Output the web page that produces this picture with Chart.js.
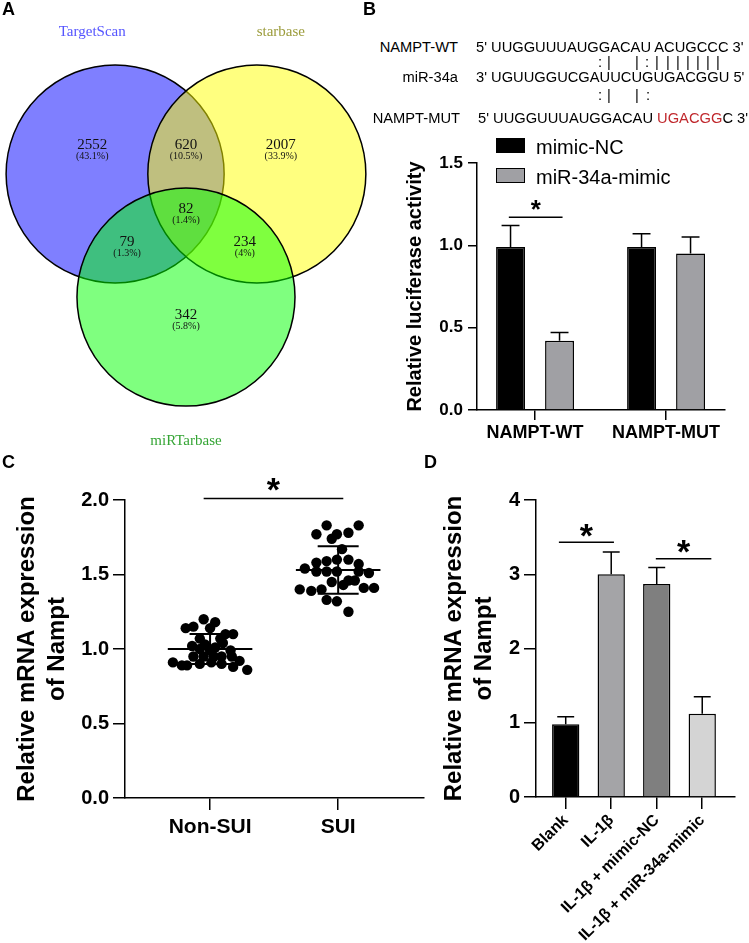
<!DOCTYPE html>
<html>
<head>
<meta charset="utf-8">
<script src="https://cdn.jsdelivr.net/npm/chart.js@4.4.0/dist/chart.umd.min.js"></script>
<style>
  body { margin: 0; background: #fff; font-family: "Liberation Sans", Arial, sans-serif; color: #000; -webkit-font-smoothing: antialiased; }
  #fig { position: relative; width: 749px; height: 943px; overflow: hidden; background: #fff; }
  canvas { position: absolute; }
  .panel { position: absolute; font-weight: bold; font-size: 18px; line-height: 18px; }
  .seq { position: absolute; font-size: 14.7px; line-height: 15px; white-space: pre; }
  .right { text-align: right; }
  .mark { position: absolute; font-size: 14.7px; line-height: 15px; color: #000; }
  .red { color: #c0282d; }
  .key { position: absolute; width: 29px; height: 15px; box-sizing: border-box; border: 1.5px solid #000; }
  .keytxt { position: absolute; font-size: 20px; line-height: 20px; white-space: nowrap; }
</style>
</head>
<body>
<div id="fig">
  <canvas id="venn" width="370" height="460" style="left:0;top:0"></canvas>
  <canvas id="luc" width="379" height="325" style="left:370px;top:125px"></canvas>
  <canvas id="dots" width="430" height="483" style="left:0;top:460px"></canvas>
  <canvas id="bars" width="319" height="483" style="left:430px;top:460px"></canvas>

  <div class="panel" style="left:2px;top:0">A</div>
  <div class="panel" style="left:363px;top:0">B</div>
  <div class="panel" style="left:2px;top:453px">C</div>
  <div class="panel" style="left:424px;top:453px">D</div>

  <!-- binding site sequences -->
  <div class="seq right" style="right:291px;top:40px">NAMPT-WT</div>
  <div class="seq" style="left:476px;top:40px">5' UUGGUUUAUGGACAU ACUGCCC 3'</div>
  <div id="marks1"></div>
  <div class="seq right" style="right:291px;top:70px">miR-34a</div>
  <div class="seq" style="left:476px;top:70px">3' UGUUGGUCGAUUCUGUGACGGU 5'</div>
  <div id="marks2"></div>
  <div class="seq right" style="right:289px;top:111px">NAMPT-MUT</div>
  <div class="seq" style="left:478px;top:111px">5' UUGGUUUAUGGACAU <span class="red">UGACGG</span>C 3'</div>

  <!-- legend of panel B -->
  <div class="key" style="left:496px;top:138px;background:#000"></div>
  <div class="keytxt" style="left:536px;top:137px">mimic-NC</div>
  <div class="key" style="left:496px;top:168px;background:#a0a0a4"></div>
  <div class="keytxt" style="left:536px;top:167px">miR-34a-mimic</div>
</div>

<script>
// ---- panel A: venn of predicted targets
const vennSets = ['TargetScan', 'starbase', 'miRTarbase'];
const vennRegionCounts = [2552, 620, 2007, 79, 82, 234, 342];

// ---- panel B: dual luciferase
const lucGroups = ['NAMPT-WT', 'NAMPT-MUT'];
const lucSeries = ['mimic-NC', 'miR-34a-mimic'];
const lucNC = [0.99, 0.99];
const lucNCErr = [0.13, 0.08];
const lucMimic = [0.42, 0.95];
const lucMimicErr = [0.05, 0.10];
const lucTicks = [0, 0.5, 1.0, 1.5];
const lucSig = [{ from: 0.80, to: 1.21, y: 1.17 }];

// ---- panel C: Nampt mRNA, Non-SUI vs SUI
const dotGroups = ['Non-SUI', 'SUI'];
const nonSuiX = [0.95, 1.04, 0.87, 0.81, 1.00, 1.12, 1.18, 0.92, 1.08, 1.10, 0.86, 0.92, 1.00, 1.16, 0.87,
                 0.95, 1.03, 1.09, 1.17, 0.71, 0.78, 0.82, 0.92, 1.01, 1.09, 1.23, 1.18, 1.29, 0.96, 1.04];
const nonSuiY = [1.20, 1.18, 1.15, 1.14, 1.14, 1.10, 1.10, 1.07, 1.07, 1.04, 1.02, 1.00, 0.99, 0.99, 0.95,
                 0.95, 0.95, 0.95, 0.95, 0.91, 0.89, 0.89, 0.90, 0.91, 0.90, 0.92, 0.88, 0.86, 1.03, 1.01];
const suiX = [1.91, 2.16, 1.83, 1.99, 2.08, 1.95, 2.03, 1.83, 1.91, 1.99, 2.08, 2.16, 1.74, 1.83, 1.91,
              1.99, 2.16, 2.24, 1.95, 2.04, 2.08, 2.13, 1.70, 1.79, 1.87, 2.20, 2.28, 1.91, 1.99, 2.08];
const suiY = [1.83, 1.83, 1.77, 1.77, 1.78, 1.74, 1.67, 1.58, 1.59, 1.60, 1.60, 1.57, 1.54, 1.52, 1.52,
              1.52, 1.52, 1.51, 1.45, 1.43, 1.46, 1.46, 1.40, 1.39, 1.40, 1.41, 1.41, 1.33, 1.32, 1.25];
const dotMean = [1.00, 1.53];
const dotSD = [0.10, 0.16];
const dotTicks = [0, 0.5, 1.0, 1.5, 2.0];
const dotSig = [{ from: 0.95, to: 2.04, y: 2.01 }];

// ---- panel D: Nampt mRNA after IL-1β
const barGroups = ['Blank', 'IL-1β', 'IL-1β + mimic-NC', 'IL-1β + miR-34a-mimic'];
const barValues = [0.98, 3.00, 2.87, 1.12];
const barErr = [0.10, 0.30, 0.22, 0.23];
const barColors = ['#000000', '#a4a4a7', '#7f7f7f', '#d4d4d4'];
const barTicks = [0, 1, 2, 3, 4];
const barSig = [{ from: 0.85, to: 2.06, y: 3.43 }, { from: 2.98, to: 4.20, y: 3.21 }];

const FONT = '"Liberation Sans", Arial, sans-serif';
Chart.defaults.font.family = FONT;
Chart.defaults.color = '#000';

// match marks under the sequences (x centres in px)
const marks1 = [[600, ':'], [609, '|'], [637, '|'], [647, ':'], [657, '|'], [668, '|'], [678, '|'], [688, '|'], [698, '|'], [708, '|'], [718, '|']];
const marks2 = [[600, ':'], [609, '|'], [637, '|'], [648, ':']];
function placeMarks(id, list, top) {
  const box = document.getElementById(id);
  list.forEach(([x, ch]) => {
    const s = document.createElement('span');
    s.className = 'mark';
    s.style.left = (x - 2) + 'px';
    s.style.top = top + 'px';
    s.textContent = ch;
    box.appendChild(s);
  });
}
placeMarks('marks1', marks1, 55);
placeMarks('marks2', marks2, 88);

// small helpers for axes
const setTicks = values => s => { s.ticks = values.map(v => ({ value: v })); };
const fixWidth = w => s => { s.width = w; };
const fixHeight = h => s => { s.height = h; };
const grid = len => ({ display: true, drawOnChartArea: false, drawTicks: true, tickLength: len, color: '#000', lineWidth: 1.5, offset: false });
const border = { display: true, color: '#000', width: 1.5 };
const baseOpts = {
  responsive: false,
  animation: false,
  events: [],
  plugins: { legend: { display: false }, tooltip: { enabled: false } }
};

// error bars (upper half only) on bars
function errPlugin(errors) {
  return {
    id: 'errBars',
    afterDatasetsDraw(chart) {
      const { ctx } = chart;
      const y = chart.scales.y;
      ctx.save();
      ctx.strokeStyle = '#000';
      ctx.lineWidth = 1.5;
      chart.data.datasets.forEach((ds, di) => {
        chart.getDatasetMeta(di).data.forEach((bar, i) => {
          const top = y.getPixelForValue(ds.data[i].y + errors[di][i]);
          const half = bar.width * 0.31;
          ctx.beginPath();
          ctx.moveTo(bar.x, bar.y);
          ctx.lineTo(bar.x, top);
          ctx.moveTo(bar.x - half, top);
          ctx.lineTo(bar.x + half, top);
          ctx.stroke();
        });
      });
      ctx.restore();
    }
  };
}

// significance line with a star
function sigPlugin(marks, size, gap) {
  return {
    id: 'sig',
    afterDraw(chart) {
      const { ctx, scales: { x, y } } = chart;
      ctx.save();
      ctx.strokeStyle = '#000';
      ctx.fillStyle = '#000';
      ctx.lineWidth = 1.5;
      ctx.font = 'bold ' + size + 'px ' + FONT;
      ctx.textAlign = 'center';
      ctx.textBaseline = 'alphabetic';
      marks.forEach(m => {
        const x1 = x.getPixelForValue(m.from), x2 = x.getPixelForValue(m.to), py = y.getPixelForValue(m.y);
        ctx.beginPath();
        ctx.moveTo(x1, py);
        ctx.lineTo(x2, py);
        ctx.stroke();
        const tm = ctx.measureText('*');
        const cy = py - gap;
        ctx.fillText('*', (x1 + x2) / 2, cy + (tm.actualBoundingBoxAscent - tm.actualBoundingBoxDescent) / 2);
      });
      ctx.restore();
    }
  };
}

// ---------- A: venn
const vennCx = [-0.65, 0.65, 0];
const vennCy = [0.565, 0.565, -0.565];
const vennR = 1;
const vennFill = ['rgba(0,0,255,0.5)', 'rgba(255,255,0,0.5)', 'rgba(0,255,0,0.5)'];
const vennNameColor = ['#5555ff', '#9c9c3c', '#35a535'];
const vennNamePos = [[-0.86, 1.87], [0.87, 1.87], [0, -1.89]];
const vennRegionPos = [[-0.86, 0.83], [0, 0.83], [0.87, 0.83], [-0.54, -0.06], [0, 0.24], [0.54, -0.06], [0, -0.73]];
const vennTotal = vennRegionCounts.reduce((a, b) => a + b, 0);

const vennText = {
  id: 'vennText',
  afterDatasetsDraw(chart) {
    const { ctx, scales: { x, y } } = chart;
    ctx.save();
    ctx.textAlign = 'center';
    ctx.textBaseline = 'middle';
    vennRegionCounts.forEach((n, i) => {
      const px = x.getPixelForValue(vennRegionPos[i][0]);
      const py = y.getPixelForValue(vennRegionPos[i][1]);
      ctx.fillStyle = '#111';
      ctx.font = '15px "Liberation Serif", serif';
      ctx.fillText(String(n), px, py);
      ctx.font = '10px "Liberation Serif", serif';
      ctx.fillText('(' + (+(n / vennTotal * 100).toFixed(1)) + '%)', px, py + 11);
    });
    vennSets.forEach((name, i) => {
      ctx.fillStyle = vennNameColor[i];
      ctx.font = '15px "Liberation Serif", serif';
      ctx.fillText(name, x.getPixelForValue(vennNamePos[i][0]), y.getPixelForValue(vennNamePos[i][1]));
    });
    ctx.restore();
  }
};

const radiusPx = c => c.chart.scales.x.getPixelForValue(vennR) - c.chart.scales.x.getPixelForValue(0);

new Chart(document.getElementById('venn'), {
  type: 'scatter',
  data: {
    datasets: vennSets.map((name, i) => ({
      label: name,
      data: [{ x: vennCx[i], y: vennCy[i] }],
      order: 3 - i,
      backgroundColor: vennFill[i],
      borderColor: '#000',
      borderWidth: 1.5,
      pointRadius: radiusPx,
      pointHoverRadius: radiusPx
    }))
  },
  options: {
    ...baseOpts,
    layout: { padding: 0 },
    scales: {
      x: { type: 'linear', display: false, min: -1.706, max: 1.688 },
      y: { type: 'linear', display: false, min: -2.06, max: 2.161 }
    }
  },
  plugins: [vennText]
});

// ---------- B: luciferase
new Chart(document.getElementById('luc'), {
  type: 'bar',
  data: {
    datasets: [
      { label: lucSeries[0], data: lucGroups.map((g, i) => ({ x: i + 1, y: lucNC[i] })), backgroundColor: '#000', borderColor: '#000', borderWidth: 1.5 },
      { label: lucSeries[1], data: lucGroups.map((g, i) => ({ x: i + 1, y: lucMimic[i] })), backgroundColor: '#a0a0a4', borderColor: '#000', borderWidth: 1.5 }
    ]
  },
  options: {
    ...baseOpts,
    layout: { padding: { left: 33, right: 24, top: 38, bottom: 0 } },
    categoryPercentage: 0.748,
    barPercentage: 0.59,
    scales: {
      x: {
        type: 'linear', min: 0.557, max: 2.45, offset: false,
        afterBuildTicks: setTicks([1, 2]),
        afterFit: fixHeight(40),
        grid: grid(10), border,
        ticks: { autoSkip: false, maxRotation: 0, padding: 2, font: { size: 18, weight: 'bold' }, callback: (v, i) => lucGroups[i] }
      },
      y: {
        min: lucTicks[0], max: lucTicks[lucTicks.length - 1],
        afterBuildTicks: setTicks(lucTicks),
        afterFit: fixWidth(74),
        grid: grid(9), border,
        ticks: { padding: 5, font: { size: 17, weight: 'bold' }, callback: v => v.toFixed(1) },
        title: { display: true, text: 'Relative luciferase activity', padding: 0, font: { size: 20, weight: 'bold', lineHeight: 1.2 } }
      }
    }
  },
  plugins: [errPlugin([lucNCErr, lucMimicErr]), sigPlugin(lucSig, 26, 12)]
});

// ---------- C: dot plot with mean ± SD
const meanSd = {
  id: 'meanSd',
  afterDatasetsDraw(chart) {
    const { ctx, scales: { x, y } } = chart;
    ctx.save();
    ctx.strokeStyle = '#000';
    ctx.lineWidth = 2;
    dotMean.forEach((m, i) => {
      const c = i + 1;
      const yM = y.getPixelForValue(m);
      const yHi = y.getPixelForValue(m + dotSD[i]);
      const yLo = y.getPixelForValue(m - dotSD[i]);
      const xc = x.getPixelForValue(c);
      ctx.beginPath();
      ctx.moveTo(x.getPixelForValue(c - 0.33), yM);
      ctx.lineTo(x.getPixelForValue(c + 0.33), yM);
      ctx.moveTo(xc, yHi);
      ctx.lineTo(xc, yLo);
      [yHi, yLo].forEach(yy => {
        ctx.moveTo(x.getPixelForValue(c - 0.16), yy);
        ctx.lineTo(x.getPixelForValue(c + 0.16), yy);
      });
      ctx.stroke();
    });
    ctx.restore();
  }
};

new Chart(document.getElementById('dots'), {
  type: 'scatter',
  data: {
    datasets: [
      { label: dotGroups[0], data: nonSuiX.map((x, i) => ({ x, y: nonSuiY[i] })), backgroundColor: '#000', borderColor: '#000', pointRadius: 5.2, borderWidth: 0 },
      { label: dotGroups[1], data: suiX.map((x, i) => ({ x, y: suiY[i] })), backgroundColor: '#000', borderColor: '#000', pointRadius: 5.2, borderWidth: 0 }
    ]
  },
  options: {
    ...baseOpts,
    layout: { padding: { left: 12, right: 6, top: 40, bottom: 0 } },
    scales: {
      x: {
        type: 'linear', min: 0.336, max: 2.67,
        afterBuildTicks: setTicks([1, 2]),
        afterFit: fixHeight(145),
        grid: grid(12), border,
        ticks: { autoSkip: false, maxRotation: 0, padding: 5, font: { size: 21, weight: 'bold' }, callback: (v, i) => dotGroups[i] }
      },
      y: {
        min: dotTicks[0], max: dotTicks[dotTicks.length - 1],
        afterBuildTicks: setTicks(dotTicks),
        afterFit: fixWidth(113),
        grid: grid(12), border,
        ticks: { padding: 4, font: { size: 20, weight: 'bold' }, callback: v => v.toFixed(1) },
        title: { display: true, text: ['Relative mRNA expression', 'of Nampt'], padding: 0, font: { size: 24, weight: 'bold', lineHeight: 1.27 } }
      }
    }
  },
  plugins: [meanSd, sigPlugin(dotSig, 34, 14)]
});

// ---------- D: bars
new Chart(document.getElementById('bars'), {
  type: 'bar',
  data: {
    datasets: [{
      label: 'Nampt',
      data: barGroups.map((g, i) => ({ x: i + 1, y: barValues[i] })),
      backgroundColor: barColors,
      borderColor: '#000',
      borderWidth: 1.5
    }]
  },
  options: {
    ...baseOpts,
    layout: { padding: { left: 9, right: 14, top: 40, bottom: 0 } },
    categoryPercentage: 1,
    barPercentage: 0.6,
    scales: {
      x: {
        type: 'linear', min: 0.347, max: 4.72, offset: false,
        afterBuildTicks: setTicks([1, 2, 3, 4]),
        afterFit: fixHeight(146),
        grid: grid(12), border,
        ticks: { autoSkip: false, minRotation: 45, maxRotation: 45, padding: 2, font: { size: 16, weight: 'bold' }, callback: (v, i) => barGroups[i] }
      },
      y: {
        min: barTicks[0], max: barTicks[barTicks.length - 1],
        afterBuildTicks: setTicks(barTicks),
        afterFit: fixWidth(97),
        grid: grid(12), border,
        ticks: { padding: 4, font: { size: 20, weight: 'bold' } },
        title: { display: true, text: ['Relative mRNA expression', 'of Nampt'], padding: 0, font: { size: 24, weight: 'bold', lineHeight: 1.27 } }
      }
    }
  },
  plugins: [errPlugin([barErr]), sigPlugin(barSig, 34, 12)]
});
</script>
</body>
</html>
